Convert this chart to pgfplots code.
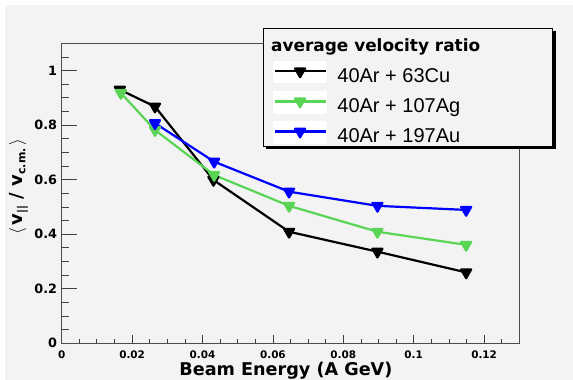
\documentclass[border=0pt]{standalone}
\usepackage{pgfplots}
\pgfplotsset{compat=1.18}
\usepackage{fontspec}
\setmainfont{Liberation Sans}
\newfontfamily\djbold{DejaVu Sans Bold}
\definecolor{bg}{RGB}{243,243,243}
\definecolor{rgreen}{RGB}{89,212,84}
\begin{document}
\begin{tikzpicture}
\fill[white] (0pt,0pt) rectangle (573pt,380pt);
\fill[bg] (5pt,0pt) rectangle (573pt,375pt);
\begin{axis}[
  at={(61.7pt,36.7pt)}, anchor=south west,
  scale only axis, width=457.6pt, height=300pt,
  xmin=0, xmax=0.13, ymin=0, ymax=1.1,
  clip=false,
  xtick={0,0.02,0.04,0.06,0.08,0.1,0.12},
  ytick={0,0.2,0.4,0.6,0.8,1},
  xtick pos=bottom, ytick pos=left, tick align=inside,
  scaled x ticks=false, scaled y ticks=false,
  /pgf/number format/assume math mode=true,
  /pgf/number format/fixed, /pgf/number format/precision=2,
  xticklabel style={font=\djbold\fontsize{10.4}{12}\selectfont, anchor=base, yshift=-15pt, inner sep=0pt},
  yticklabel style={font=\djbold\fontsize{12.8}{14}\selectfont, anchor=east, inner sep=0pt, xshift=-4.4pt},
  axis line style={black!70, line width=0.7pt},
  major tick length=0pt, minor tick length=0pt,
  xlabel={Beam Energy (A GeV)},
  xlabel style={at={(axis description cs:0.49,-0.1057)}, anchor=base, font=\djbold\fontsize{17.6}{20}\selectfont, inner sep=0pt},
  ylabel={$\Big\langle$\,v\raisebox{-0.35ex}{\fontsize{11}{11}\selectfont ||} / v\raisebox{-0.35ex}{\fontsize{11}{11}\selectfont c.m.}\,$\Big\rangle$},
  ylabel style={at={(axis description cs:-0.0944,0.522)}, anchor=center, font=\djbold\fontsize{18}{20}\selectfont},
  legend style={at={(axis description cs:0.4624,0.9437)}, anchor=north west, draw=none, fill=none, inner sep=0pt,
    row sep=7pt, column sep=10.7pt, font=\fontsize{20}{24}\selectfont,
    nodes={inner sep=0pt, text height=22pt, text depth=0pt}, cells={anchor=west}},
  legend image code/.code={
    \fill[white] (0pt,-11pt) rectangle (51pt,9pt);
    \draw[mark repeat=2,mark phase=2,#1] plot coordinates {(0pt,0pt) (25.5pt,0pt) (51pt,0pt)};
  },
]
% tick marks, in axis coordinates
\pgfplotsinvokeforeach{0.02,0.04,0.06,0.08,0.1,0.12}{
  \draw[black!75, line width=0.8pt] (axis cs:#1,0) -- (axis cs:#1,0.029);
}
\pgfplotsinvokeforeach{0.005,0.01,0.015,0.025,0.03,0.035,0.045,0.05,0.055,0.065,0.07,0.075,0.085,0.09,0.095,0.105,0.11,0.115,0.125}{
  \draw[black!75, line width=0.8pt] (axis cs:#1,0) -- (axis cs:#1,0.0147);
}
\pgfplotsinvokeforeach{0.2,0.4,0.6,0.8,1}{
  \draw[black!75, line width=0.8pt] (axis cs:0,#1) -- (axis cs:0.00426,#1);
}
\pgfplotsinvokeforeach{0.05,0.1,0.15,0.25,0.3,0.35,0.45,0.5,0.55,0.65,0.7,0.75,0.85,0.9,0.95,1.05}{
  \draw[black!75, line width=0.8pt] (axis cs:0,#1) -- (axis cs:0.00213,#1);
}
\addplot[black, line width=2.2pt, line join=round, mark=triangle*, mark size=5.8pt, mark options={rotate=180, solid}]
  coordinates {(0.0165,0.930) (0.0265,0.868) (0.0431,0.599) (0.0646,0.409) (0.0897,0.336) (0.1149,0.260)};
\addlegendentry{40Ar + 63Cu}
\addplot[rgreen, line width=2.2pt, line join=round, mark=triangle*, mark size=5.8pt, mark options={rotate=180, solid}]
  coordinates {(0.0168,0.918) (0.0265,0.782) (0.0433,0.617) (0.0646,0.504) (0.0897,0.409) (0.1149,0.361)};
\addlegendentry{40Ar + 107Ag}
\addplot[blue, line width=2.2pt, line join=round, mark=triangle*, mark size=5.8pt, mark options={rotate=180, solid}]
  coordinates {(0.0265,0.807) (0.0433,0.666) (0.0646,0.556) (0.0897,0.504) (0.1149,0.489)};
\addlegendentry{40Ar + 197Au}
\fill[black] (axis description cs:0.4471,1.04) rectangle (axis description cs:1.0795,0.6477);
\filldraw[fill=bg, draw=black, line width=0.7pt] (axis description cs:0.4406,1.05) rectangle (axis description cs:1.0730,0.6577);
\node[anchor=base west, inner sep=0pt, font=\djbold\fontsize{16.9}{20}\selectfont] at (axis description cs:0.4574,0.972) {average velocity ratio};
\end{axis}
\pgfresetboundingbox
\useasboundingbox (0pt,0pt) rectangle (573pt,380pt);
\end{tikzpicture}
\end{document}
